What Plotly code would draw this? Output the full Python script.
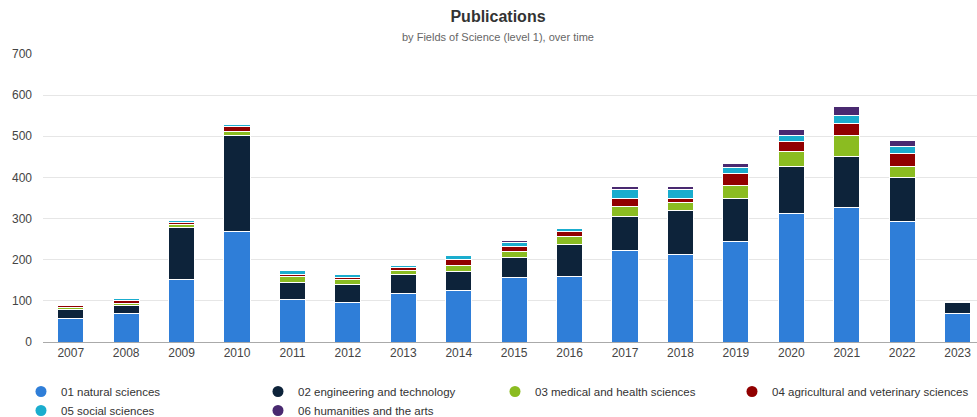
import plotly.graph_objects as go

years = ["2007", "2008", "2009", "2010", "2011", "2012", "2013", "2014", "2015",
         "2016", "2017", "2018", "2019", "2020", "2021", "2022", "2023"]

natural_sciences = [58, 69, 153, 268, 103, 96, 118, 124, 156, 160, 222, 213, 244, 312, 327, 294, 69]
engineering_technology = [21, 20, 125, 233, 41, 43, 47, 48, 50, 77, 84, 107, 106, 115, 124, 105, 28]
medical_health = [4, 5, 8, 11, 15, 14, 8, 13, 15, 19, 23, 20, 31, 37, 50, 27, 0]
agricultural_veterinary = [5, 7, 5, 13, 6, 4, 7, 15, 11, 13, 19, 10, 28, 24, 29, 31, 0]
social_sciences = [2, 4, 5, 4, 9, 8, 5, 11, 9, 8, 22, 21, 15, 14, 21, 19, 0]
humanities_arts = [0, 0, 1, 2, 1, 1, 1, 0, 5, 1, 7, 6, 11, 15, 22, 14, 0]

series_names = ["01 natural sciences", "02 engineering and technology",
                "03 medical and health sciences", "04 agricultural and veterinary sciences",
                "05 social sciences", "06 humanities and the arts"]
series_values = [natural_sciences, engineering_technology, medical_health,
                 agricultural_veterinary, social_sciences, humanities_arts]
colors = ["#2f7ed8", "#0d233a", "#8bbc21", "#910000", "#1aadce", "#492970"]

y_ticks = [0, 100, 200, 300, 400, 500, 600, 700]

W, H = 977, 417
ML, MR, MT, MB = 43, 0, 54, 75
plot_w = W - ML - MR
plot_h = H - MT - MB

fig = go.Figure()
for name, vals, col in zip(series_names, series_values, colors):
    fig.add_trace(go.Bar(
        x=years, y=vals, name=name, marker=dict(color=col, line=dict(color="white", width=1)),
        showlegend=False, legendgroup=name,
    ))
for name, col in zip(series_names, colors):
    fig.add_trace(go.Scatter(
        x=[None], y=[None], mode="markers", name=name, legendgroup=name,
        marker=dict(color=col, size=11, symbol="circle"), showlegend=True,
    ))

fig.update_layout(
    width=W, height=H, autosize=False,
    barmode="stack", bargap=0.53,
    plot_bgcolor="white", paper_bgcolor="white",
    font=dict(family="Liberation Sans, Arial, sans-serif", color="#333333", size=12),
    margin=dict(l=ML, r=MR, t=MT, b=MB, autoexpand=False),
    title=dict(
        text="<b>Publications</b>",
        x=498 / W, xref="container", xanchor="center",
        y=1 - 16 / H, yref="container", yanchor="middle",
        font=dict(size=16, color="#333333"),
    ),
    annotations=[dict(
        text="by Fields of Science (level 1), over time",
        x=(498 - ML) / plot_w, xref="paper", xanchor="center",
        y=(H - MB - 37) / plot_h, yref="paper", yanchor="middle",
        showarrow=False, font=dict(size=11, color="#666666"),
    )],
    xaxis=dict(
        type="category", range=[-0.5, 16.35],
        showline=True, linecolor="#aaaaaa", linewidth=1,
        showgrid=False, ticks="", tickfont=dict(size=12, color="#444444"),
        fixedrange=True,
    ),
    yaxis=dict(
        range=[0, 700], tickvals=y_ticks, ticktext=[str(v) for v in y_ticks],
        showgrid=True, gridcolor="#e6e6e6", gridwidth=1, zeroline=False,
        showline=False, ticks="", tickfont=dict(size=12, color="#444444"),
        ticklabelstandoff=10, fixedrange=True,
    ),
    legend=dict(
        orientation="h", xref="paper", yref="paper",
        x=(21 - ML) / plot_w, xanchor="left",
        y=(H - MB - 377) / plot_h, yanchor="top",
        entrywidth=192, entrywidthmode="pixels",
        font=dict(size=11.5, color="#333333"), itemclick=False,
        tracegroupgap=0,
    ),
)

fig.write_html(
    "out.html", include_plotlyjs=True,
    config={"displayModeBar": False, "staticPlot": False},
    post_script="document.body.style.margin='0';document.body.style.overflow='hidden';",
)
